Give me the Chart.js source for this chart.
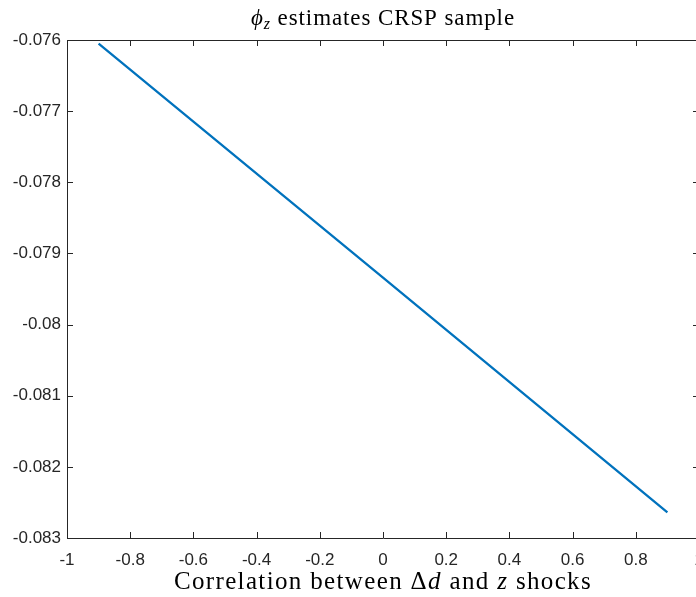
<!DOCTYPE html>
<html>
<head>
<meta charset="utf-8">
<script src="https://cdn.jsdelivr.net/npm/chart.js@4.4.1/dist/chart.umd.min.js"></script>
<style>
html,body{margin:0;padding:0;overflow:hidden;background:#fff;width:696px;height:597px;}
canvas{display:block;}
</style>
</head>
<body>
<canvas id="c" width="703" height="597" style="width:703px;height:597px;"></canvas>
<script>
// Data
const rho = [-0.9, 0, 0.9];
const phiZ = [-0.07605, -0.07934, -0.08264];
const xTicks = [-1, -0.8, -0.6, -0.4, -0.2, 0, 0.2, 0.4, 0.6, 0.8, 1];
const xTickLabels = ['-1', '-0.8', '-0.6', '-0.4', '-0.2', '0', '0.2', '0.4', '0.6', '0.8', '1'];
const yTicks = [-0.083, -0.082, -0.081, -0.08, -0.079, -0.078, -0.077, -0.076];
const yTickLabels = ['-0.083', '-0.082', '-0.081', '-0.08', '-0.079', '-0.078', '-0.077', '-0.076'];

const axisColor = '#262626';

const boxPlugin = {
  id: 'box',
  afterDraw(chart) {
    const {ctx, chartArea: a, scales: {x, y}} = chart;
    ctx.save();
    ctx.strokeStyle = axisColor;
    ctx.lineWidth = 1;
    ctx.beginPath();
    ctx.rect(Math.round(a.left) + 0.5, Math.round(a.top) + 0.5, Math.round(a.right - a.left), Math.round(a.bottom - a.top));
    ctx.stroke();
    const tl = 6;
    ctx.beginPath();
    xTicks.forEach(v => {
      const px = Math.round(x.getPixelForValue(v)) + 0.5;
      ctx.moveTo(px, a.bottom); ctx.lineTo(px, a.bottom - tl);
      ctx.moveTo(px, a.top); ctx.lineTo(px, a.top + tl);
    });
    yTicks.forEach(v => {
      const py = Math.round(y.getPixelForValue(v)) + 0.5;
      ctx.moveTo(a.left, py); ctx.lineTo(a.left + tl, py);
      ctx.moveTo(a.right, py); ctx.lineTo(a.right - tl, py);
    });
    ctx.stroke();

    ctx.fillStyle = '#000';
    ctx.textBaseline = 'alphabetic';
    ctx.textAlign = 'left';
    const cx = (a.left + a.right) / 2;
    const drawParts = (parts, baseY, spacing) => {
      ctx.letterSpacing = spacing + 'px';
      let tw = 0;
      parts.forEach(p => { ctx.font = p[1]; tw += ctx.measureText(p[0]).width; });
      let sx = cx - tw / 2;
      parts.forEach(p => { ctx.font = p[1]; ctx.fillText(p[0], sx, baseY + (p[2] || 0)); sx += ctx.measureText(p[0]).width; });
    };
    // Title
    drawParts([
      ['\u03D5', 'italic 23px "Liberation Serif", "DejaVu Serif"'],
      ['z', 'italic 16px "Liberation Serif"', 4],
      [' estimates CRSP sample', '23px "Liberation Serif"']
    ], 25, 0.9);
    // X axis title
    drawParts([
      ['Correlation between \u0394', '25px "Liberation Serif"'],
      ['d', 'italic 25px "Liberation Serif"'],
      [' and ', '25px "Liberation Serif"'],
      ['z', 'italic 25px "Liberation Serif"'],
      [' shocks', '25px "Liberation Serif"']
    ], 589, 1.35);
    ctx.restore();
  }
};

new Chart(document.getElementById('c'), {
  type: 'scatter',
  data: {
    datasets: [{
      data: rho.map((r, i) => ({x: r, y: phiZ[i]})),
      showLine: true,
      borderColor: '#0072BD',
      borderWidth: 2.3,
      pointRadius: 0,
      fill: false
    }]
  },
  options: {
    responsive: false,
    maintainAspectRatio: false,
    animation: false,
    devicePixelRatio: 1,
    layout: {padding: {top: 40, right: 4, left: 0, bottom: 0}},
    plugins: {legend: {display: false}, tooltip: {enabled: false}},
    scales: {
      x: {
        type: 'linear', min: -1, max: 1,
        afterBuildTicks: s => { s.ticks = xTicks.map(v => ({value: v})); },
        afterFit: s => { s.height = 59; s.paddingLeft = 0; s.paddingRight = 0; },
        grid: {display: false, drawTicks: false},
        border: {display: false},
        ticks: {
          autoSkip: false, maxRotation: 0, padding: 12, color: axisColor,
          font: {family: '"Liberation Sans", Arial, sans-serif', size: 17},
          callback: (v, i) => xTickLabels[i]
        }
      },
      y: {
        type: 'linear', min: -0.083, max: -0.076,
        afterBuildTicks: s => { s.ticks = yTicks.map(v => ({value: v})); },
        afterFit: s => { s.width = 67; s.paddingTop = 0; s.paddingBottom = 0; },
        grid: {display: false, drawTicks: false},
        border: {display: false},
        ticks: {
          autoSkip: false, padding: 6, color: axisColor,
          font: {family: '"Liberation Sans", Arial, sans-serif', size: 17},
          callback: (v, i) => yTickLabels[i]
        }
      }
    }
  },
  plugins: [boxPlugin]
});
</script>
</body>
</html>
